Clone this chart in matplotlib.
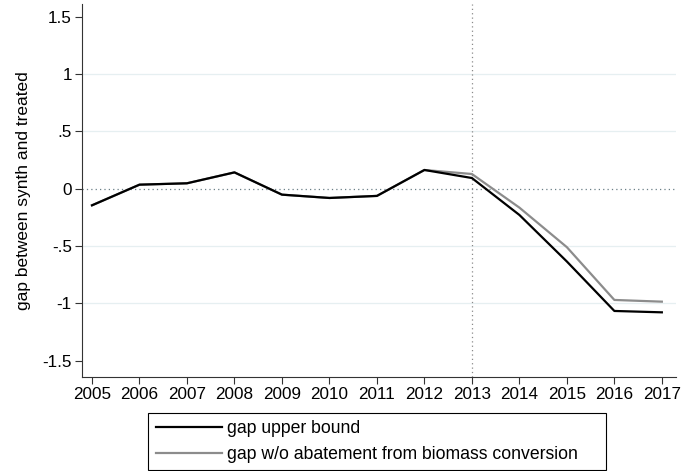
import matplotlib.pyplot as plt
from matplotlib.patches import Rectangle
import numpy as np

plt.rcParams['font.family'] = ['Liberation Sans', 'DejaVu Sans']

years = list(range(2005, 2018))
gap_upper = [-0.145, 0.035, 0.047, 0.142, -0.052, -0.081, -0.063, 0.163,
             0.093, -0.229, -0.635, -1.066, -1.078]
gap_no_biomass = [-0.145, 0.035, 0.047, 0.142, -0.052, -0.081, -0.063, 0.163,
                  0.128, -0.165, -0.51, -0.97, -0.985]
yticks = [-1.5, -1, -0.5, 0, 0.5, 1, 1.5]
ytick_labels = ["-1.5", "-1", "-.5", "0", ".5", "1", "1.5"]
treat_year = 2013

W, H = 697, 471
fig = plt.figure(figsize=(W / 100, H / 100), dpi=100)
ax = fig.add_axes([0.117, 0.2, 0.853, 0.7915])

# grid lines (not at the ends)
for g in [-1, -0.5, 0.5, 1]:
    ax.axhline(g, color='#e6eff1', lw=0.9, zorder=0)
ax.axhline(0, color='#6a7f86', lw=0.9, ls=(0, (1, 2.5)), zorder=1)
ax.axvline(treat_year, color='#8a8a8a', lw=0.9, ls=(0, (1, 2.5)), zorder=1)

ax.plot(years, gap_no_biomass, color='#8c8c8c', lw=1.6, zorder=2,
        label='gap w/o abatement from biomass conversion')
ax.plot(years, gap_upper, color='black', lw=1.6, zorder=3,
        label='gap upper bound')

ax.set_xlim(2004.78, 2017.3)
ax.set_ylim(-1.64, 1.61)
ax.set_xticks(years)
ax.set_yticks(yticks)
ax.set_yticklabels(ytick_labels)
ax.tick_params(labelsize=12.3, length=5, width=0.8, color='#333333', pad=2)
ax.set_ylabel('gap between synth and treated', fontsize=12.5, labelpad=8)

ax.spines['top'].set_visible(False)
ax.spines['right'].set_visible(False)
for s in ['left', 'bottom']:
    ax.spines[s].set_color('#333333')
    ax.spines[s].set_linewidth(0.8)

# legend box below the plot, stata style (extra room on the right)
box_l, box_r, box_t, box_b = 148, 606, 413, 470
fig.patches.append(Rectangle((box_l / W, 1 - box_b / H), (box_r - box_l) / W,
                             (box_b - box_t) / H, transform=fig.transFigure,
                             fill=False, edgecolor='black', lw=0.8))
h, l = ax.get_legend_handles_labels()
leg = fig.legend(h[::-1], l[::-1], loc='center left',
                 bbox_to_anchor=(156 / W, 1 - (box_t + box_b) / 2 / H),
                 fontsize=12.7, frameon=False, handlelength=3.75,
                 borderpad=0, labelspacing=0.5, handletextpad=0.3, borderaxespad=0)

fig.savefig('out.png', dpi=100)
